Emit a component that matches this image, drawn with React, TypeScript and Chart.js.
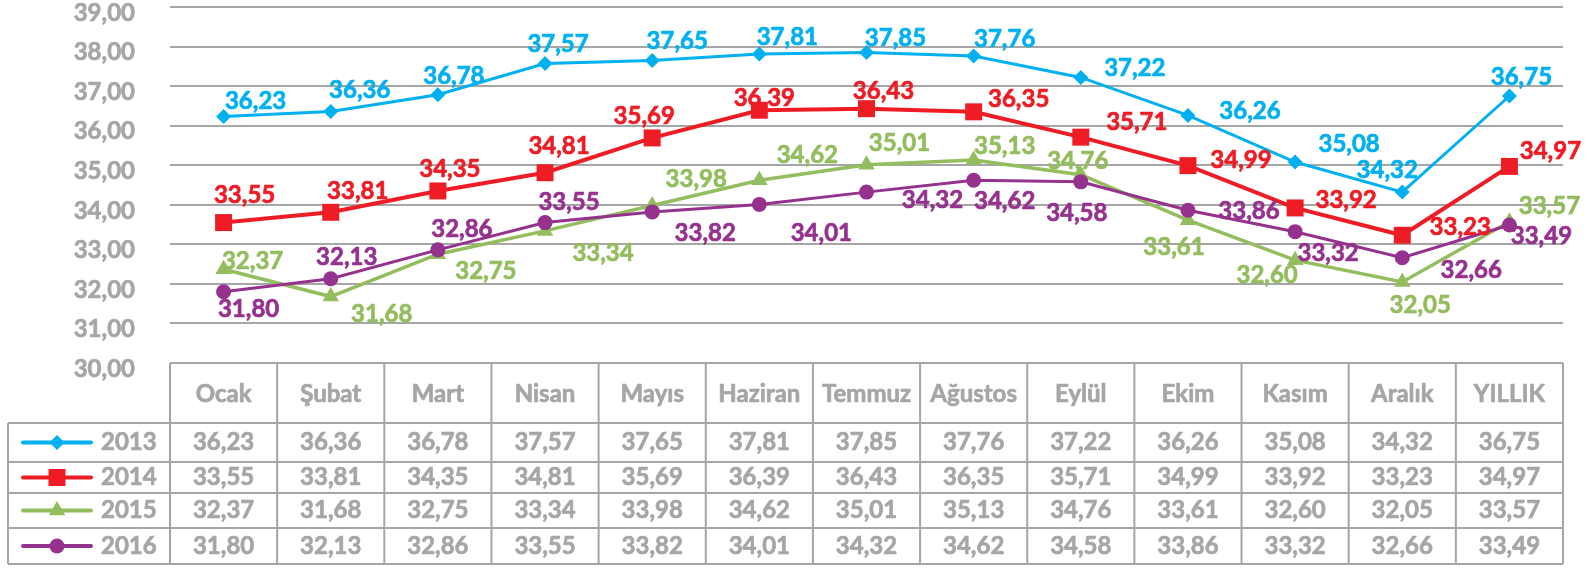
import React, { useEffect, useRef } from 'react';
import { Chart, registerables } from 'chart.js';

Chart.register(...registerables);

const categories = ['Ocak', 'Şubat', 'Mart', 'Nisan', 'Mayıs', 'Haziran', 'Temmuz', 'Ağustos', 'Eylül', 'Ekim', 'Kasım', 'Aralık', 'YILLIK'];
const seriesNames = ['2013', '2014', '2015', '2016'];
const values2013 = [36.23, 36.36, 36.78, 37.57, 37.65, 37.81, 37.85, 37.76, 37.22, 36.26, 35.08, 34.32, 36.75];
const values2014 = [33.55, 33.81, 34.35, 34.81, 35.69, 36.39, 36.43, 36.35, 35.71, 34.99, 33.92, 33.23, 34.97];
const values2015 = [32.37, 31.68, 32.75, 33.34, 33.98, 34.62, 35.01, 35.13, 34.76, 33.61, 32.60, 32.05, 33.57];
const values2016 = [31.80, 32.13, 32.86, 33.55, 33.82, 34.01, 34.32, 34.62, 34.58, 33.86, 33.32, 32.66, 33.49];
const yMin = 30;
const yMax = 39;
const yStep = 1;

// label placement (offset of label centre from its point, in px)
const labelOffsets2013 = [[32, -15], [29, -21], [16, -19], [13, -19], [25, -19], [28, -17], [29, -14], [31, -17], [54, -9], [62, -4], [54, -18], [-15, -22], [12, -19]];
const labelOffsets2014 = [[21, -27], [27, -21], [12, -22], [14, -26], [-8, -22], [5, -12], [17, -17], [45, -13], [56, -15], [53, -5], [51, -8], [58, -8], [41, -15]];
const labelOffsets2015 = [[29, -8], [51, 18], [48, 17], [58, 22], [44, -26], [48, -25], [33, -22], [31, -14], [-3, -13], [-14, 27], [-28, 15], [18, 23], [40, -16]];
const labelOffsets2016 = [[25, 17], [16, -21], [24, -21], [24, -20], [53, 21], [62, 29], [66, 8], [31, 21], [-4, 31], [61, 1], [33, 22], [69, 12], [32, 11]];

const allValues = [values2013, values2014, values2015, values2016];
const allOffsets = [labelOffsets2013, labelOffsets2014, labelOffsets2015, labelOffsets2016];
const colors = ['#00B0F0', '#EE1C25', '#93BD5E', '#95328E'];
const pointStyles = ['rectRot', 'rect', 'triangle', 'circle'];
const pointRadii = [7.5, 12, 9.5, 7.5];
const lineWidths = [3, 4, 3.5, 3];

const GREY = '#A6A6A6';
const FAMILY = 'Lato, "Open Sans", sans-serif';
const FONT = 'bold 24px ' + FAMILY;
const TEXT_STROKE = 0.7;

const fmt = (v: number) => v.toFixed(2).replace('.', ',');

function boldText(ctx: CanvasRenderingContext2D, text: string, x: number, y: number, color: string) {
  ctx.fillStyle = color;
  ctx.strokeStyle = color;
  ctx.lineWidth = TEXT_STROKE;
  ctx.lineJoin = 'round';
  ctx.fillText(text, x, y);
  ctx.strokeText(text, x, y);
}

function drawMarker(ctx: CanvasRenderingContext2D, style: string, x: number, y: number, r: number, color: string) {
  ctx.save();
  ctx.fillStyle = color;
  ctx.beginPath();
  if (style === 'rectRot') {
    ctx.moveTo(x, y - r);
    ctx.lineTo(x + r, y);
    ctx.lineTo(x, y + r);
    ctx.lineTo(x - r, y);
    ctx.closePath();
  } else if (style === 'rect') {
    const s = Math.SQRT1_2 * r;
    ctx.rect(x - s, y - s, 2 * s, 2 * s);
  } else if (style === 'triangle') {
    const a = (2 * Math.PI) / 3;
    ctx.moveTo(x, y - r);
    ctx.lineTo(x + Math.sin(a) * r, y - Math.cos(a) * r);
    ctx.lineTo(x + Math.sin(2 * a) * r, y - Math.cos(2 * a) * r);
    ctx.closePath();
  } else {
    ctx.arc(x, y, r, 0, Math.PI * 2);
  }
  ctx.fill();
  ctx.restore();
}

const labelPlugin = {
  id: 'pointLabels',
  afterDatasetsDraw(chart: any) {
    const ctx: CanvasRenderingContext2D = chart.ctx;
    ctx.save();
    ctx.font = FONT;
    ctx.textAlign = 'center';
    ctx.textBaseline = 'middle';
    for (let d = 0; d < allValues.length; d++) {
      const meta = chart.getDatasetMeta(d);
      meta.data.forEach((pt: any, i: number) => {
        const off = allOffsets[d][i];
        boldText(ctx, fmt(allValues[d][i]), pt.x + off[0], pt.y + off[1], colors[d]);
      });
    }
    ctx.restore();
  },
};

const tablePlugin = {
  id: 'dataTable',
  afterDraw(chart: any) {
    const ctx: CanvasRenderingContext2D = chart.ctx;
    const area = chart.chartArea;
    const xs = chart.scales.x;
    const n = categories.length;
    const colW = (area.right - area.left) / n;
    const top = area.bottom;
    const rowY = [top, top + 60, top + 99, top + 130, top + 165, top + 201];
    const legendLeft = 8;

    ctx.save();
    ctx.strokeStyle = GREY;
    ctx.lineWidth = 2;
    ctx.beginPath();
    ctx.moveTo(area.left, rowY[0]);
    ctx.lineTo(area.right, rowY[0]);
    for (let r = 1; r < rowY.length; r++) {
      ctx.moveTo(legendLeft, rowY[r]);
      ctx.lineTo(area.right, rowY[r]);
    }
    for (let c = 0; c <= n; c++) {
      const x = area.left + c * colW;
      ctx.moveTo(x, rowY[0]);
      ctx.lineTo(x, rowY[rowY.length - 1]);
    }
    ctx.moveTo(legendLeft, rowY[1]);
    ctx.lineTo(legendLeft, rowY[rowY.length - 1]);
    ctx.stroke();

    ctx.font = FONT;
    ctx.textAlign = 'center';
    ctx.textBaseline = 'middle';
    for (let c = 0; c < n; c++) {
      const cx = xs.getPixelForValue(c);
      boldText(ctx, categories[c], cx, (rowY[0] + rowY[1]) / 2 + 1, GREY);
      for (let d = 0; d < allValues.length; d++) {
        boldText(ctx, fmt(allValues[d][c]), cx, (rowY[d + 1] + rowY[d + 2]) / 2, GREY);
      }
    }
    for (let d = 0; d < seriesNames.length; d++) {
      const cy = (rowY[d + 1] + rowY[d + 2]) / 2;
      ctx.save();
      ctx.strokeStyle = colors[d];
      ctx.lineWidth = 4;
      ctx.lineCap = 'round';
      ctx.beginPath();
      ctx.moveTo(23, cy);
      ctx.lineTo(91, cy);
      ctx.stroke();
      ctx.restore();
      drawMarker(ctx, pointStyles[d], 57, cy, pointRadii[d], colors[d]);
      ctx.textAlign = 'left';
      boldText(ctx, seriesNames[d], 101, cy, GREY);
    }
    ctx.restore();
  },
};

export default function App() {
  const ref = useRef<HTMLCanvasElement>(null);
  useEffect(() => {
    if (!ref.current) return;
    const chart = new Chart(ref.current, {
      type: 'line',
      data: {
        labels: categories,
        datasets: allValues.map((vals, d) => ({
          label: seriesNames[d],
          data: vals,
          borderColor: colors[d],
          backgroundColor: colors[d],
          borderWidth: lineWidths[d],
          pointStyle: pointStyles[d] as any,
          pointRadius: pointRadii[d],
          pointBackgroundColor: colors[d],
          pointBorderColor: colors[d],
          pointBorderWidth: 0,
          tension: 0,
          fill: false,
          order: 4 - d,
        })),
      },
      options: {
        responsive: false,
        animation: false,
        events: [],
        layout: { autoPadding: false, padding: { left: 0, top: 7, right: 31, bottom: 205 } },
        plugins: {
          legend: { display: false },
          tooltip: { enabled: false },
          title: { display: false },
        },
        scales: {
          x: { type: 'category', display: false, offset: true },
          y: {
            min: yMin,
            max: yMax,
            border: { display: false },
            grid: { color: GREY, lineWidth: 2, drawTicks: false },
            ticks: {
              stepSize: yStep,
              padding: 35,
              labelOffset: 6,
              color: GREY,
              textStrokeColor: GREY,
              textStrokeWidth: TEXT_STROKE,
              font: { family: FAMILY, weight: 'bold', size: 24, lineHeight: 0.4 },
              callback: (v: any) => fmt(Number(v)),
            } as any,
            afterFit: (s: any) => {
              s.width = 170;
              s.paddingTop = 0;
              s.paddingBottom = 0;
            },
          },
        },
      },
      plugins: [labelPlugin, tablePlugin],
    });
    return () => chart.destroy();
  }, []);
  return (
    <div style={{ position: 'fixed', left: 0, top: 0, width: 1594, height: 568, background: '#fff' }}>
      <canvas ref={ref} width={1594} height={568} style={{ display: 'block', width: 1594, height: 568 }} />
    </div>
  );
}
